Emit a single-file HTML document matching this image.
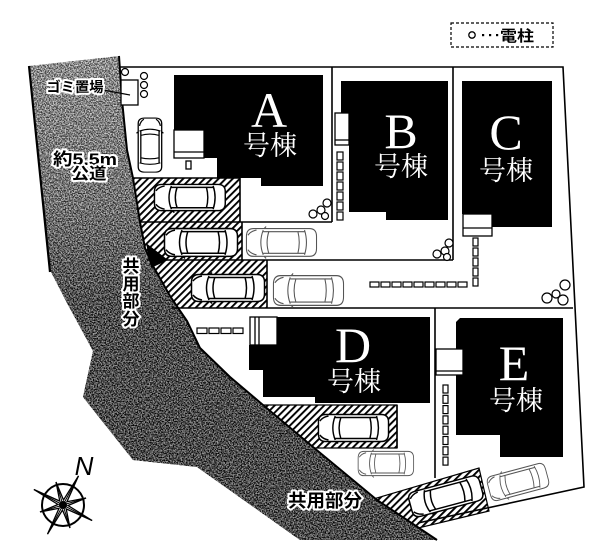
<!DOCTYPE html>
<html><head><meta charset="utf-8"><style>html,body{margin:0;padding:0;background:#fff;}svg{display:block;}</style></head><body>
<svg width="605" height="548" viewBox="0 0 605 548" xmlns="http://www.w3.org/2000/svg" xmlns:xlink="http://www.w3.org/1999/xlink">
<defs>
 <pattern id="hatch" patternUnits="userSpaceOnUse" width="5" height="5" patternTransform="rotate(45)">
  <rect width="5" height="5" fill="#fff"/>
  <rect x="0" y="0" width="1.9" height="5" fill="#000"/>
 </pattern>
 <linearGradient id="rg" gradientUnits="userSpaceOnUse" x1="0" y1="60" x2="0" y2="450">
  <stop offset="0" stop-color="#9e9e9e"/>
  <stop offset="0.36" stop-color="#606060"/>
  <stop offset="0.62" stop-color="#0a0a0a"/>
  <stop offset="1" stop-color="#000"/>
 </linearGradient>
 <filter id="noise" x="0" y="0" width="1" height="1" color-interpolation-filters="sRGB">
  <feTurbulence type="fractalNoise" baseFrequency="0.75" numOctaves="2" seed="7"/>
  <feColorMatrix type="matrix" values="3 0 0 0 -1  3 0 0 0 -1  3 0 0 0 -1  0 0 0 0 1"/>
 </filter>
 <path id="roadP" d="M29,66 L119,56 L122,100 L127,150 L133,178 L140,222 L145,248 L153,266 L170,296 L187,321 L200,348 L230,377 L263,405 L313,447 L377,500 L437,540 L300,540 L197,467 L133,460 L83,397 L93,351 L67,303 L50,270 Z"/>
 <clipPath id="roadClip"><use xlink:href="#roadP"/></clipPath>
 <g id="car">
  <path d="M9,1.5 H67 Q74.5,1.5 74.5,9 V21 Q74.5,28.5 67,28.5 H9 Q1.5,28.5 1.5,21 V9 Q1.5,1.5 9,1.5Z" fill="#fff"/>
  <path d="M19,3 Q14,15 19,27 M25,4 Q21,15 25,26 M55,4 Q58,15 55,26 M62,3 Q66,15 62,27 M19,4.5 H62 M19,25.5 H62 M3,8 Q6,4 12,3 M3,22 Q6,26 12,27 M20,1.5 L22,-0.5 M20,28.5 L22,30.5" fill="none"/>
 </g>
</defs>

<rect width="605" height="548" fill="#fff"/>

<!-- hatched parking -->
<rect x="120" y="178" width="120" height="44" fill="url(#hatch)"/>
<rect x="120" y="222" width="122" height="38" fill="url(#hatch)"/>
<rect x="120" y="260" width="147" height="48" fill="url(#hatch)"/>
<polygon points="255,405 397,405 397,448 300,448" fill="url(#hatch)" stroke="#000" stroke-width="1.2"/>
<polygon points="370,500 479,468 489,511 410,530" fill="url(#hatch)" stroke="#000" stroke-width="1.2"/>

<!-- road -->
<use xlink:href="#roadP" fill="url(#rg)"/>
<rect x="0" y="40" width="450" height="508" filter="url(#noise)" clip-path="url(#roadClip)" opacity="0.6"/>
<path d="M119,56 L122,100 L127,150 L133,178 L140,222 L145,248 L153,266 L170,296 L187,321 L200,348 L230,377 L263,405 L313,447 L377,500 L437,540" fill="none" stroke="#000" stroke-width="2"/>
<path d="M29,66 L50,272" fill="none" stroke="#000" stroke-width="2.2"/>

<!-- site lines -->
<g stroke="#000" stroke-width="1.6" fill="none">
 <path d="M119,67 H563 L584,487 L418,523"/>
 <path d="M332,67 V222"/>
 <path d="M453,67 V260"/>
 <path d="M133,178 H240 V222"/>
 <path d="M139,222 H332"/>
 <path d="M147,260 H453"/>
 <path d="M242,222 V260"/>
 <path d="M172,308 H573"/>
 <path d="M267,260 V308"/>
 <path d="M435,308 V478"/>
 <path d="M397,405 V448"/>
</g>

<!-- buildings -->
<g fill="#000">
 <polygon points="174,75 323,75 323,186 261,186 261,178 217,178 217,158 204,158 204,130 174,130"/>
 <polygon points="341,81 448,81 448,220 386,220 386,212 349,212 349,113 341,113"/>
 <polygon points="462,81 552,81 552,227 492,227 492,214 462,214"/>
 <polygon points="277,317 430,317 430,403 315,403 315,397 263,397 263,370 249,370 249,345 277,345"/>
 <polygon points="460,318 563,318 563,457 500,457 500,435 456,435 456,322"/>
</g>

<!-- entrance boxes -->
<g fill="#fff" stroke="#000" stroke-width="1.3">
 <rect x="174" y="130" width="30" height="28"/>
 <path d="M174,152 H204" fill="none"/>
 <rect x="186" y="161" width="5" height="8"/>
 <rect x="335" y="113" width="14" height="32"/>
 <path d="M335,140 H349" fill="none"/>
 <rect x="463" y="214" width="29" height="22"/>
 <path d="M463,228 H492" fill="none"/>
 <rect x="250" y="317" width="27" height="28"/>
 <path d="M255,317 V345 M259,317 V345" fill="none"/>
 <rect x="436" y="349" width="27" height="26"/>
 <path d="M436,371 H463" fill="none"/>
 <rect x="121" y="80" width="17" height="25"/>
</g>
<path d="M103,90 L130,95" stroke="#000" stroke-width="1.2"/>

<!-- stepping stones -->
<g fill="#fff" stroke="#000" stroke-width="1.2">
 <rect x="337" y="152" width="6" height="8"/><rect x="337" y="162" width="6" height="8"/><rect x="337" y="172" width="6" height="8"/><rect x="337" y="182" width="6" height="8"/><rect x="337" y="192" width="6" height="8"/><rect x="337" y="202" width="6" height="8"/><rect x="337" y="212" width="6" height="8"/>
 <rect x="473" y="238" width="5" height="8"/><rect x="473" y="248" width="5" height="8"/><rect x="473" y="258" width="5" height="8"/><rect x="473" y="268" width="5" height="8"/><rect x="473" y="278" width="5" height="8"/>
 <rect x="370" y="282" width="9" height="5"/><rect x="381" y="282" width="9" height="5"/><rect x="392" y="282" width="9" height="5"/><rect x="403" y="282" width="9" height="5"/><rect x="414" y="282" width="9" height="5"/><rect x="425" y="282" width="9" height="5"/><rect x="436" y="282" width="9" height="5"/><rect x="447" y="282" width="9" height="5"/><rect x="458" y="282" width="9" height="5"/>
 <rect x="197" y="328" width="10" height="5.5"/><rect x="209" y="328" width="10" height="5.5"/><rect x="221" y="328" width="10" height="5.5"/><rect x="233" y="328" width="10" height="5.5"/>
 <rect x="443" y="385" width="5" height="8"/><rect x="443" y="395.3" width="5" height="8"/><rect x="443" y="405.6" width="5" height="8"/><rect x="443" y="415.9" width="5" height="8"/><rect x="443" y="426.2" width="5" height="8"/><rect x="443" y="436.5" width="5" height="8"/><rect x="443" y="446.8" width="5" height="8"/><rect x="443" y="457.1" width="5" height="8"/>
</g>

<!-- shrubs / poles -->
<g fill="#fff" stroke="#000" stroke-width="1.2">
 <circle cx="125" cy="72" r="3.5"/>
 <circle cx="144" cy="76" r="3.5"/><circle cx="144" cy="85" r="3.5"/><circle cx="144" cy="94" r="3.5"/>
 <circle cx="313" cy="214" r="4"/><circle cx="321" cy="210" r="4"/><circle cx="327" cy="203" r="4"/><circle cx="325" cy="216" r="3.5"/>
 <circle cx="437" cy="254" r="4"/><circle cx="445" cy="251" r="4"/><circle cx="449" cy="243" r="4"/><circle cx="447" cy="257" r="3.5"/>
 <circle cx="547" cy="298" r="5"/><circle cx="563" cy="300" r="5"/><circle cx="565" cy="285" r="5"/><circle cx="556" cy="294" r="4"/>
</g>

<!-- cars -->
<g stroke="#000" stroke-width="1.5">
 <use xlink:href="#car" transform="translate(163,117) rotate(90) scale(0.74,0.87)"/>
 <use xlink:href="#car" transform="translate(153,183) scale(0.97,0.97)"/>
 <use xlink:href="#car" transform="translate(163,227) scale(1.0,1.03)"/>
 <use xlink:href="#car" transform="translate(190,273) scale(1.0,1.0)"/>
 <use xlink:href="#car" transform="translate(317,413) scale(0.96,1.0)"/>
 <use xlink:href="#car" transform="translate(446,497) rotate(-15) translate(-38,-15) scale(1,0.95)"/>
</g>
<g stroke="#555" stroke-width="1.1">
 <use xlink:href="#car" transform="translate(245,227) scale(0.96,1.03)"/>
 <use xlink:href="#car" transform="translate(272,274) scale(0.96,1.1)"/>
 <use xlink:href="#car" transform="translate(357,450) scale(0.76,0.9)"/>
 <use xlink:href="#car" transform="translate(518,482) rotate(-15) scale(0.82,0.93) translate(-38,-15)"/>
</g>

<!-- entry triangle -->
<polygon points="146,243 168,260 151,268" fill="#000"/>

<!-- building labels -->
<g fill="#fff" text-anchor="middle">
 <text x="269" y="127" font-family="'Liberation Serif',serif" font-size="50">A</text>
 <text x="270" y="155" font-family="'Liberation Serif','Noto Serif CJK SC',serif" font-size="27">号棟</text>
 <text x="401" y="148" font-family="'Liberation Serif',serif" font-size="50">B</text>
 <text x="401" y="176" font-family="'Liberation Serif','Noto Serif CJK SC',serif" font-size="27">号棟</text>
 <text x="506" y="149" font-family="'Liberation Serif',serif" font-size="50">C</text>
 <text x="506" y="180" font-family="'Liberation Serif','Noto Serif CJK SC',serif" font-size="27">号棟</text>
 <text x="353" y="362" font-family="'Liberation Serif',serif" font-size="50">D</text>
 <text x="354" y="391" font-family="'Liberation Serif','Noto Serif CJK SC',serif" font-size="27">号棟</text>
 <text x="514" y="380" font-family="'Liberation Serif',serif" font-size="50">E</text>
 <text x="516" y="410" font-family="'Liberation Serif','Noto Serif CJK SC',serif" font-size="27">号棟</text>
</g>

<!-- road labels -->
<g font-family="'Liberation Sans','Noto Sans CJK JP',sans-serif" font-weight="bold" fill="#000" stroke="#fff" stroke-width="4" stroke-linejoin="round" paint-order="stroke" text-anchor="middle">
 <text x="75" y="92" font-size="14" textLength="57" lengthAdjust="spacingAndGlyphs">ゴミ置場</text>
 <text x="85" y="165" font-size="17" textLength="64" lengthAdjust="spacingAndGlyphs">約5.5m</text>
 <text x="89" y="179" font-size="16" textLength="35" lengthAdjust="spacingAndGlyphs">公道</text>
 <text x="131" y="272" font-size="17">共</text>
 <text x="131" y="290" font-size="17">用</text>
 <text x="131" y="307" font-size="17">部</text>
 <text x="131" y="325" font-size="17">分</text>
 <text x="325" y="507" font-size="18" textLength="74" lengthAdjust="spacingAndGlyphs">共用部分</text>
</g>

<!-- legend -->
<rect x="451" y="23" width="102" height="24" fill="none" stroke="#000" stroke-width="1.2" stroke-dasharray="3,2"/>
<circle cx="472" cy="35" r="3.2" fill="#fff" stroke="#000" stroke-width="1.3"/>
<rect x="482" y="34" width="2.2" height="2.2"/><rect x="489" y="34" width="2.2" height="2.2"/><rect x="496" y="34" width="2.2" height="2.2"/>
<text x="517" y="41" font-family="'Liberation Sans','Noto Sans CJK JP',sans-serif" font-weight="bold" font-size="15" text-anchor="middle" textLength="34" lengthAdjust="spacingAndGlyphs">電柱</text>

<!-- compass -->
<circle cx="63" cy="505" r="21" fill="#fff" stroke="#000" stroke-width="2"/>
<polygon points="78.5,475.9 66.9,501.8 86,498 68,505.5 92.1,520.5 66.2,508.9 70,528 62.5,510 47.5,534.1 59.1,508.2 40,512 58,504.5 33.9,489.5 59.8,501.1 56,482 63.5,500" fill="#fff" stroke="#000" stroke-width="1.3"/>
<path d="M63,505 L78.5,475.9 M63,505 L86,498 M63,505 L92.1,520.5 M63,505 L70,528 M63,505 L47.5,534.1 M63,505 L40,512 M63,505 L33.9,489.5 M63,505 L56,482" stroke="#000" stroke-width="1"/>
<circle cx="63" cy="505" r="4" fill="#000"/>
<text x="84" y="475" font-family="'Liberation Sans',sans-serif" font-style="italic" font-size="26" text-anchor="middle" fill="#000">N</text>
</svg>
</body></html>
